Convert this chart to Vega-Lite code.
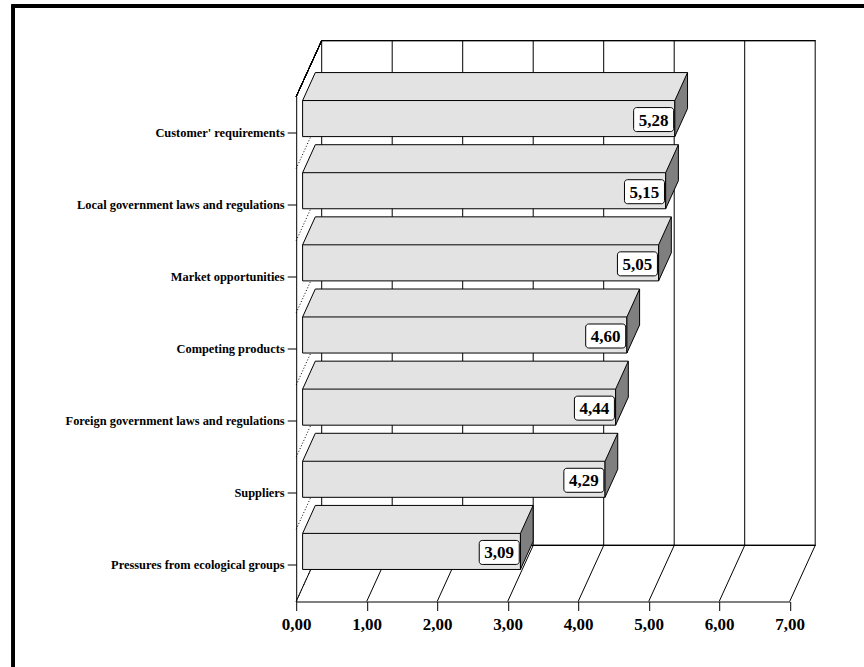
{
  "$schema": "https://vega.github.io/schema/vega-lite/v6.json",
  "width": 493.5,
  "height": 505,
  "autosize": {"type": "none"},
  "padding": {"left": 296.2, "top": 96.5, "right": 74.3, "bottom": 65.5},
  "background": "white",
  "config": {
    "view": {"stroke": null},
    "locale": {"number": {"decimal": ",", "thousands": ".", "grouping": [3], "currency": ["", " €"]}},
    "axis": {
      "domainColor": "black",
      "domainWidth": 1,
      "tickColor": "black",
      "tickWidth": 1,
      "tickSize": 9,
      "labelColor": "black",
      "labelFont": "Liberation Serif",
      "grid": false
    }
  },
  "datasets": {
    "scores": [
      {"factor": "Customer' requirements", "score": 5.28},
      {"factor": "Local government laws and regulations", "score": 5.15},
      {"factor": "Market opportunities", "score": 5.05},
      {"factor": "Competing products", "score": 4.60},
      {"factor": "Foreign government laws and regulations", "score": 4.44},
      {"factor": "Suppliers", "score": 4.29},
      {"factor": "Pressures from ecological groups", "score": 3.09}
    ],
    "ticks": [
      {"t": 0}, {"t": 1}, {"t": 2}, {"t": 3}, {"t": 4}, {"t": 5}, {"t": 6}, {"t": 7}
    ]
  },
  "data": {"name": "scores"},
  "layer": [
    {
      "description": "outer frame, left edge",
      "mark": {"type": "rule", "color": "black", "strokeWidth": 3.3, "xOffset": -282.9, "yOffset": -126.7, "y2Offset": 200},
      "encoding": {
        "x": {"datum": 0, "type": "quantitative", "scale": {"domain": [0, 7], "nice": false}},
        "y": {"datum": "Customer' requirements", "type": "nominal", "scale": {"type": "band", "domain": ["Customer' requirements", "Local government laws and regulations", "Market opportunities", "Competing products", "Foreign government laws and regulations", "Suppliers", "Pressures from ecological groups"], "paddingInner": 0.5, "paddingOuter": 0.25}},
        "y2": {"datum": "Pressures from ecological groups"}
      }
    },
    {
      "description": "outer frame, top edge",
      "mark": {"type": "rule", "color": "black", "strokeWidth": 3.3, "xOffset": -284.5, "x2Offset": 200, "yOffset": -126.7},
      "encoding": {
        "x": {"datum": 0, "type": "quantitative"},
        "x2": {"datum": 7},
        "y": {"datum": "Customer' requirements", "type": "nominal"}
      }
    },
    {
      "description": "back wall verticals",
      "data": {"name": "ticks"},
      "mark": {"type": "rule", "color": "black", "strokeWidth": 1, "xOffset": 25.5, "yOffset": -92, "y2Offset": -20},
      "encoding": {
        "x": {"field": "t", "type": "quantitative", "title": null},
        "y": {"datum": "Customer' requirements", "type": "nominal"},
        "y2": {"datum": "Pressures from ecological groups"}
      }
    },
    {
      "description": "back wall top edge",
      "mark": {"type": "rule", "color": "black", "strokeWidth": 1, "xOffset": 25.5, "x2Offset": 25.5, "yOffset": -92},
      "encoding": {
        "x": {"datum": 0, "type": "quantitative"},
        "x2": {"datum": 7},
        "y": {"datum": "Customer' requirements", "type": "nominal"}
      }
    },
    {
      "description": "back edge of the floor",
      "mark": {"type": "rule", "color": "black", "strokeWidth": 1, "xOffset": 25.5, "x2Offset": 25.5, "yOffset": -20},
      "encoding": {
        "x": {"datum": 0, "type": "quantitative"},
        "x2": {"datum": 7},
        "y": {"datum": "Pressures from ecological groups", "type": "nominal"}
      }
    },
    {
      "description": "floor diagonals at each tick",
      "data": {"name": "ticks"},
      "mark": {"type": "point", "shape": "M0,36L25.5,-20", "size": 4, "filled": false, "stroke": "black", "strokeWidth": 1, "opacity": 1},
      "encoding": {
        "x": {"field": "t", "type": "quantitative", "title": null},
        "y": {"datum": "Pressures from ecological groups", "type": "nominal"}
      }
    },
    {
      "description": "dotted side-wall lines between categories",
      "mark": {"type": "point", "shape": "M0,36L25.5,-20", "size": 4, "filled": false, "stroke": "black", "strokeWidth": 1, "strokeDash": [1, 2], "opacity": 1},
      "encoding": {
        "x": {"datum": 0, "type": "quantitative"},
        "y": {"field": "factor", "type": "nominal"}
      }
    },
    {
      "description": "side wall top edge",
      "mark": {"type": "point", "shape": "M0,-36L25.5,-92", "size": 4, "filled": false, "stroke": "black", "strokeWidth": 1, "opacity": 1},
      "encoding": {
        "x": {"datum": 0, "type": "quantitative"},
        "y": {"datum": "Customer' requirements", "type": "nominal"}
      }
    },
    {
      "description": "bar top face, back part",
      "mark": {"type": "bar", "fill": "#e3e3e3", "strokeWidth": 0, "xOffset": 19.1, "x2Offset": 19.1, "yOffset": -42},
      "encoding": {
        "x": {"field": "score", "type": "quantitative"},
        "x2": {"datum": 0},
        "y": {"field": "factor", "type": "nominal"}
      }
    },
    {
      "description": "bar top face, left corner",
      "mark": {"type": "point", "shape": "M6.4,-32L19.1,-60L20,-60L20,-31L6.4,-31Z", "size": 4, "filled": true, "fill": "#e3e3e3", "strokeWidth": 0, "opacity": 1},
      "encoding": {
        "x": {"datum": 0, "type": "quantitative"},
        "y": {"field": "factor", "type": "nominal"}
      }
    },
    {
      "description": "bar front face",
      "mark": {"type": "bar", "fill": "#e3e3e3", "stroke": "black", "strokeWidth": 1, "xOffset": 6.4, "x2Offset": 6.4, "yOffset": -14},
      "encoding": {
        "x": {"field": "score", "type": "quantitative", "scale": {"domain": [0, 7], "nice": false}, "axis": {"title": null, "values": [0, 1, 2, 3, 4, 5, 6, 7], "format": ".2f", "labelFontSize": 17, "labelFontWeight": "bold", "labelFlush": false, "labelPadding": 6}},
        "x2": {"datum": 0},
        "y": {"field": "factor", "type": "nominal", "axis": {"title": null, "labelFontSize": 12.4, "labelFontWeight": "bold", "labelPadding": 3, "labelLimit": 300}}
      }
    },
    {
      "description": "bar end face",
      "mark": {"type": "point", "shape": "M6.4,-32L19.1,-60L19.1,-24L6.4,4Z", "size": 4, "filled": true, "fill": "#7f7f7f", "stroke": "black", "strokeWidth": 1, "opacity": 1},
      "encoding": {
        "x": {"field": "score", "type": "quantitative"},
        "y": {"field": "factor", "type": "nominal"}
      }
    },
    {
      "description": "bar top face, back edge",
      "mark": {"type": "rule", "color": "black", "strokeWidth": 1, "xOffset": 19.1, "x2Offset": 19.1, "yOffset": -60},
      "encoding": {
        "x": {"field": "score", "type": "quantitative"},
        "x2": {"datum": 0},
        "y": {"field": "factor", "type": "nominal"}
      }
    },
    {
      "description": "bar top face, left edge",
      "mark": {"type": "point", "shape": "M6.4,-32L19.1,-60", "size": 4, "filled": false, "stroke": "black", "strokeWidth": 1, "opacity": 1},
      "encoding": {
        "x": {"datum": 0, "type": "quantitative"},
        "y": {"field": "factor", "type": "nominal"}
      }
    },
    {
      "description": "value label box",
      "mark": {"type": "bar", "fill": "white", "stroke": "black", "strokeWidth": 1, "cornerRadius": 3, "height": 24, "xOffset": -34.8, "x2Offset": 5.2, "yOffset": -13},
      "encoding": {
        "x": {"field": "score", "type": "quantitative"},
        "x2": {"field": "score"},
        "y": {"field": "factor", "type": "nominal"}
      }
    },
    {
      "description": "value label text",
      "mark": {"type": "text", "font": "Liberation Serif", "fontWeight": "bold", "fontSize": 17, "color": "black", "align": "center", "baseline": "middle", "xOffset": -14.8, "yOffset": -12},
      "encoding": {
        "x": {"field": "score", "type": "quantitative"},
        "y": {"field": "factor", "type": "nominal"},
        "text": {"field": "score", "type": "quantitative", "format": ".2f"}
      }
    }
  ]
}
